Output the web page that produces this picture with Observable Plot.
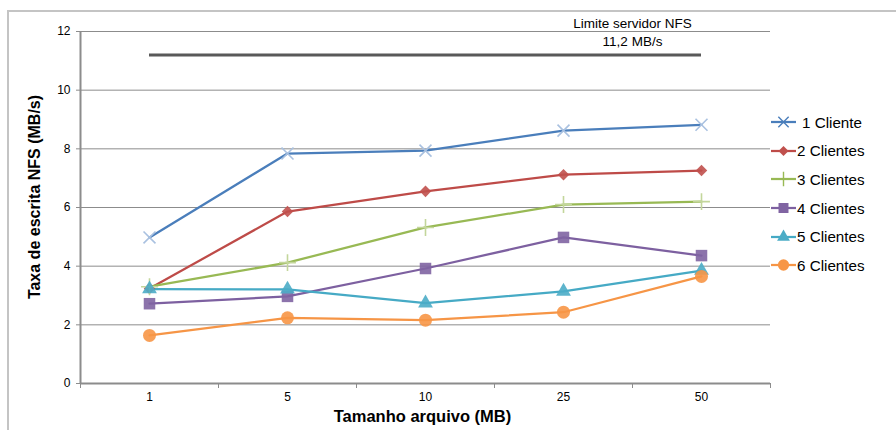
<!DOCTYPE html>
<html>
<head>
<meta charset="utf-8">
<script src="https://cdn.jsdelivr.net/npm/d3@7"></script>
<script src="https://cdn.jsdelivr.net/npm/@observablehq/plot@0.6"></script>
<style>
  html, body { margin: 0; padding: 0; background: #fff; }
  #wrap { position: relative; width: 896px; height: 430px; overflow: hidden; font-family: "Liberation Sans", Arial, sans-serif; }
  #frame { position: absolute; left: 7px; top: 10px; width: 1000px; height: 1000px; border-left: 2px solid #c4c4c4; border-top: 2px solid #c4c4c4; }
  #chart { position: absolute; left: 0; top: 0; }
  #legend { position: absolute; left: 771px; top: 108px; }
  #ytitle { position: absolute; left: 35px; top: 197px; transform: translate(-50%, -50%) rotate(-90deg); white-space: nowrap; font-weight: bold; font-size: 16px; line-height: 1; color: #000; }
  .item { display: flex; align-items: center; height: 28.6px; font-size: 15.2px; color: #000; white-space: pre; }
  .item svg { display: block; }
</style>
</head>
<body>
<div id="wrap">
  <div id="frame"></div>
  <div id="chart"></div>
  <div id="ytitle"></div>
  <div id="legend"></div>
</div>
<script>
// ---- data ----
const fileSizes = ["1", "5", "10", "25", "50"];
const seriesNames = ["1 Cliente", "2 Clientes", "3 Clientes", "4 Clientes", "5 Clientes", "6 Clientes"];
const cliente1 = [4.98, 7.84, 7.94, 8.62, 8.82];
const cliente2 = [3.24, 5.86, 6.55, 7.12, 7.26];
const cliente3 = [3.30, 4.12, 5.32, 6.10, 6.20];
const cliente4 = [2.72, 2.97, 3.92, 4.98, 4.36];
const cliente5 = [3.22, 3.21, 2.74, 3.14, 3.85];
const cliente6 = [1.64, 2.24, 2.16, 2.43, 3.65];
const limitValue = 11.2;
const limitLabel = "Limite servidor NFS\n11,2 MB/s";
const yTicks = [0, 2, 4, 6, 8, 10, 12];
const xTitle = "Tamanho arquivo (MB)";
const yTitle = "Taxa de escrita NFS (MB/s)";

// ---- styles ----
const rhombus = {
  draw(ctx, size) {
    const r = Math.sqrt(size / 2);
    ctx.moveTo(0, -r); ctx.lineTo(r, 0); ctx.lineTo(0, r); ctx.lineTo(-r, 0); ctx.closePath();
  }
};
const seriesValues = [cliente1, cliente2, cliente3, cliente4, cliente5, cliente6];
const lineColors = ["#4a7ebb", "#be4b48", "#98b954", "#7d60a0", "#46aac5", "#f69546"];
const markColors = ["#a9c1e0", "#c0504d", "#c3d69b", "#8064a2", "#4bacc6", "#f79646"];
const symbols = ["times", rhombus, "plus", "square", "triangle", "circle"];
const hollow = [true, false, true, false, false, false];
const radii = [5.5, 4.6, 5.5, 6.5, 5.5, 6.5];

const idx = fileSizes.map((_, i) => i);
const rows = seriesNames.map((name, s) => idx.map(i => ({series: name, i, v: seriesValues[s][i]})));

const marks = [
  Plot.ruleY(yTicks.slice(1), {stroke: "#8c8c8c", strokeWidth: 1}),
  Plot.axisY(yTicks, {tickSize: 4, stroke: "#8c8c8c", tickPadding: 6, fontSize: 12, label: null}),
  Plot.axisX([-0.5, 0.5, 1.5, 2.5, 3.5, 4.5], {tickSize: 5, stroke: "#8c8c8c", tickFormat: () => "", label: null}),
  Plot.axisX(idx, {tickSize: 0, tickPadding: 9, fontSize: 12, tickFormat: i => fileSizes[i], label: null}),
  Plot.ruleY([0], {stroke: "#8c8c8c", strokeWidth: 2}),
  Plot.ruleX([-0.5], {stroke: "#8c8c8c", strokeWidth: 2}),
  Plot.ruleY([limitValue], {x1: 0, x2: 4, stroke: "#595959", strokeWidth: 3}),
  Plot.text([limitLabel], {x: 3.5, y: limitValue, text: d => d, lineAnchor: "bottom", dy: -9, fontSize: 13.5, lineHeight: 1.3}),
  Plot.text([xTitle], {frameAnchor: "bottom", dy: 38, dx: -3, text: d => d, fontWeight: "bold", fontSize: 16.5})
];
rows.forEach((data, s) => {
  marks.push(Plot.line(data, {x: "i", y: "v", stroke: lineColors[s], strokeWidth: 2.25}));
});
rows.forEach((data, s) => {
  marks.push(Plot.dot(data, hollow[s]
    ? {x: "i", y: "v", symbol: symbols[s], r: radii[s], stroke: markColors[s], strokeWidth: 1.6, fill: "none"}
    : {x: "i", y: "v", symbol: symbols[s], r: radii[s], fill: markColors[s], fillOpacity: 0.9, stroke: "none"}));
});

const chart = Plot.plot({
  width: 896, height: 430,
  marginLeft: 80, marginRight: 126, marginTop: 31, marginBottom: 47,
  x: {type: "linear", domain: [-0.5, 4.5]},
  y: {domain: [0, 12]},
  style: {fontFamily: "'Liberation Sans', Arial, sans-serif", fontSize: "12px", color: "#000", background: "transparent", overflow: "visible"},
  marks
});
document.getElementById("chart").appendChild(chart);
document.getElementById("ytitle").textContent = yTitle;

// ---- legend ----
const legend = d3.select("#legend");
const symMap = {times: d3.symbolTimes, plus: d3.symbolPlus, square: d3.symbolSquare, triangle: d3.symbolTriangle, circle: d3.symbolCircle};
seriesNames.forEach((name, s) => {
  const item = legend.append("div").attr("class", "item");
  const svg = item.append("svg").attr("width", s === 0 ? 31 : 26).attr("height", 16);
  svg.append("line").attr("x1", 0).attr("x2", 25).attr("y1", 8).attr("y2", 8)
    .attr("stroke", lineColors[s]).attr("stroke-width", 2.25);
  const type = typeof symbols[s] === "string" ? symMap[symbols[s]] : symbols[s];
  const size = Math.PI * radii[s] * radii[s] * 0.75;
  const p = svg.append("path").attr("transform", "translate(12.5,8)")
    .attr("d", d3.symbol(type, size)());
  if (hollow[s]) p.attr("fill", "none").attr("stroke", lineColors[s]).attr("stroke-width", 1.4);
  else p.attr("fill", markColors[s]);
  item.append("span").text(name);
});
</script>
</body>
</html>
